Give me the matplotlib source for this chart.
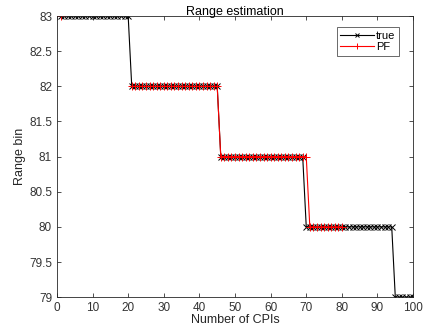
import numpy as np
import matplotlib
matplotlib.use('Agg')
import matplotlib.pyplot as plt
from matplotlib.ticker import FormatStrFormatter, MultipleLocator

plt.rcParams['font.family'] = ['Liberation Sans', 'DejaVu Sans']

# true range bin per CPI (1..100)
cpi = np.arange(1, 101)
true_levels = [83, 82, 81, 80, 79]
true_counts = [20, 25, 24, 25, 6]
true_bin = np.repeat(true_levels, true_counts).astype(float)

# particle filter estimate: first CPI, then CPI 21..80
pf_levels = [82, 81, 80]
pf_counts = [25, 25, 10]
pf_bin = np.full(100, np.nan)
pf_bin[0] = 83
pf_bin[20:80] = np.repeat(pf_levels, pf_counts)

fig = plt.figure(figsize=(4.25, 3.35), dpi=100)
ax = fig.add_axes([0.134, 0.113, 0.838, 0.839])

ax.plot(cpi, true_bin, color='black', lw=0.8, marker='x', ms=4, mew=0.7, label='true')
ax.plot(cpi, pf_bin, color='red', lw=0.8, marker='+', ms=6, mew=0.7, label='PF')

ax.set_xlim(0, 100)
ax.set_ylim(79, 83)
ax.xaxis.set_major_locator(MultipleLocator(10))
ax.yaxis.set_major_locator(MultipleLocator(0.5))
ax.yaxis.set_major_formatter(FormatStrFormatter('%g'))
ax.tick_params(direction='in', labelsize=8.5, colors='0.2', length=3, top=True, right=True, width=0.6)
for s in ax.spines.values():
    s.set_color('0.15')
    s.set_linewidth(0.6)

ax.set_title('Range estimation', fontsize=9, pad=1)
ax.set_xlabel('Number of CPIs', fontsize=9, color='0.15', labelpad=0)
ax.set_ylabel('Range bin', fontsize=9, color='0.15', labelpad=2)

leg = ax.legend(loc='upper right', fontsize=8, fancybox=False, edgecolor='0.15',
                handlelength=3.0, borderpad=0.3, labelspacing=0.15, handletextpad=0.2,
                bbox_to_anchor=(0.975, 0.98), markerscale=0.8)
leg.get_frame().set_linewidth(0.6)

fig.savefig('out.png', dpi=100)
